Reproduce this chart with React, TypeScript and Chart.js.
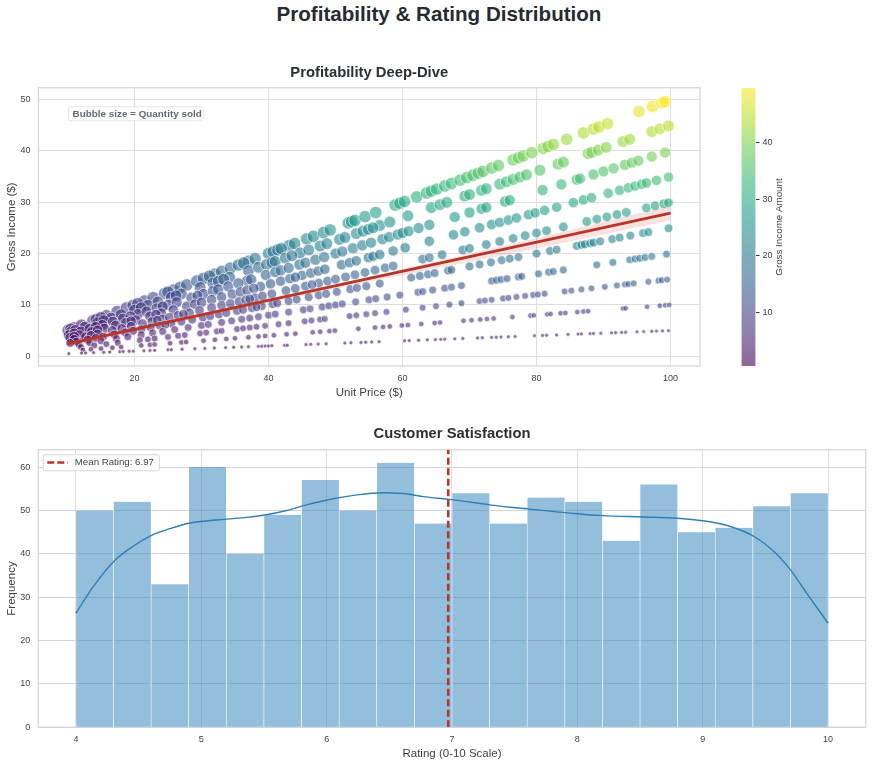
import { useEffect, useRef } from "react";
import { Chart, registerables } from "chart.js";

Chart.register(...registerables);
Chart.defaults.font.family = "'Liberation Sans', Arial, sans-serif";

// [unit price, gross income], one list per quantity sold
const qty1 = [[10.2,.51],[12.1,.61],[12.7,.64],[13.9,.7],[15.4,.77],[16.3,.82],[17.8,.89],[18.3,.92],[19.2,.96],[19.8,.99],[21.4,1.07],[22.3,1.12],[23,1.15],[25,1.25],[25.5,1.28],[27.1,1.36],[29,1.45],[30.5,1.53],[31.9,1.6],[33.6,1.68],[34.8,1.74],[36,1.8],[37,1.85],[38.5,1.93],[39,1.95],[39.5,1.98],[40,2],[40.5,2.03],[42.4,2.12],[42.8,2.14],[45.6,2.28],[46.3,2.32],[47.4,2.37],[48.6,2.43],[51.4,2.57],[52.3,2.62],[53.8,2.69],[54.5,2.73],[55.4,2.77],[56.5,2.83],[60.3,3.02],[61,3.05],[62.4,3.12],[63.7,3.19],[64.9,3.25],[65.7,3.29],[66.3,3.32],[67.8,3.39],[69,3.45],[71.2,3.56],[71.9,3.6],[73.3,3.67],[74,3.7],[74.7,3.74],[75.8,3.79],[76.8,3.84],[79.7,3.99],[80.9,4.05],[81.5,4.08],[83,4.15],[84.7,4.24],[86.2,4.31],[86.7,4.34],[88,4.4],[88.5,4.43],[89.6,4.48],[91.2,4.56],[91.8,4.59],[92.7,4.64],[93.3,4.67],[95,4.75],[96,4.8],[97.2,4.86],[97.9,4.9],[98.8,4.94],[99.7,4.99]];
const qty2 = [[12.3,1.23],[13.5,1.35],[15,1.5],[16.7,1.67],[18,1.8],[21,2.1],[22.3,2.23],[23,2.3],[25.3,2.53],[27,2.7],[27.7,2.77],[30.3,3.03],[32,3.2],[33.7,3.37],[35,3.5],[37,3.7],[38.5,3.85],[39.5,3.95],[40.8,4.08],[42.7,4.27],[44,4.4],[46.6,4.66],[47.7,4.77],[49.1,4.91],[49.9,4.99],[53.4,5.34],[55.9,5.59],[57.1,5.71],[58.1,5.81],[59.9,5.99],[60.8,6.08],[62.8,6.28],[64.8,6.48],[65.6,6.56],[69.1,6.91],[70.3,7.03],[71.6,7.16],[72.6,7.26],[73.6,7.36],[76.4,7.64],[79.1,7.91],[79.6,7.96],[81.6,8.16],[82.1,8.21],[83.6,8.36],[84.3,8.43],[86.1,8.61],[87,8.7],[87.7,8.77],[92.9,9.29],[93.3,9.33],[96.5,9.65],[98.4,9.84],[99.2,9.92],[99.8,9.98]];
const qty3 = [[12,1.8],[14,2.1],[15.8,2.37],[17.5,2.63],[20.8,3.12],[22,3.3],[23,3.45],[25,3.75],[26.5,3.98],[27.5,4.13],[29.8,4.47],[30.7,4.61],[32.3,4.85],[33,4.95],[35.3,5.3],[36.2,5.43],[37.2,5.58],[38.2,5.73],[39.5,5.93],[41.5,6.23],[43,6.45],[45.4,6.81],[46.4,6.96],[47.7,7.16],[48.4,7.26],[52.1,7.82],[53.1,7.97],[54.6,8.19],[55.9,8.39],[57.6,8.64],[60.5,9.08],[63,9.45],[65,9.75],[67,10.05],[68.8,10.32],[71.5,10.73],[72.3,10.85],[73.3,11],[75,11.25],[75.8,11.37],[77,11.55],[78.3,11.75],[79.5,11.93],[80.2,12.03],[81.2,12.18],[84.2,12.63],[85.2,12.78],[86.7,13.01],[88.2,13.23],[90.2,13.53],[92,13.8],[93.2,13.98],[93.7,14.06],[94.5,14.18],[96.7,14.51],[98.2,14.73],[98.7,14.81],[99.5,14.93]];
const qty4 = [[11.7,2.34],[13.3,2.66],[15,3],[17.3,3.46],[19,3.8],[21,4.2],[22.7,4.54],[24.2,4.84],[26,5.2],[28,5.6],[30,6],[31,6.2],[33,6.6],[34.5,6.9],[36,7.2],[37.2,7.44],[38.5,7.7],[40,8],[41,8.2],[43,8.6],[45.2,9.04],[46.2,9.24],[48,9.6],[49,9.8],[50,10],[51,10.2],[53,10.6],[55,11],[56,11.2],[57.7,11.54],[59.6,11.92],[62.3,12.46],[63,12.6],[64.5,12.9],[66.3,13.26],[67.3,13.46],[68.8,13.76],[73.3,14.66],[74,14.8],[74.7,14.94],[75.6,15.12],[77.3,15.46],[77.8,15.56],[80.3,16.06],[81.8,16.36],[82.5,16.5],[84,16.8],[89,17.8],[91.4,18.28],[93.9,18.78],[94.7,18.94],[95.4,19.08],[96.2,19.24],[97.2,19.44],[99.4,19.88]];
const qty5 = [[11.3,2.83],[13,3.25],[15.3,3.83],[17,4.25],[18.6,4.65],[21,5.25],[22.4,5.6],[23.8,5.95],[25.5,6.38],[27,6.75],[28.6,7.15],[30.2,7.55],[32.6,8.15],[33.7,8.43],[35.3,8.83],[36.2,9.05],[37.5,9.38],[39,9.75],[40.6,10.15],[41.3,10.33],[43,10.75],[44.2,11.05],[46,11.5],[47.5,11.88],[48.6,12.15],[50.2,12.55],[52.2,13.05],[53.2,13.3],[54.6,13.65],[56.6,14.15],[61.3,15.33],[62.6,15.65],[63.8,15.95],[64.8,16.2],[66.8,16.7],[67.3,16.83],[70,17.5],[71.5,17.88],[73.2,18.3],[74.8,18.7],[76,19],[77.3,19.33],[80,20],[82,20.5],[83,20.75],[86,21.5],[86.7,21.68],[87.2,21.8],[88,22],[88.5,22.13],[89.5,22.38],[91.3,22.83],[92.4,23.1],[94,23.5],[95.9,23.98],[96.7,24.18],[99.7,24.93],[10.4,2.6],[14.2,3.55],[19.8,4.95],[24.6,6.15],[31.3,7.83],[38.2,9.55]];
const qty6 = [[11,3.3],[12.7,3.81],[14.5,4.35],[16.7,5.01],[18.1,5.43],[21.2,6.36],[22.6,6.78],[24.2,7.26],[25.2,7.56],[26.5,7.95],[28.2,8.46],[29.7,8.91],[31.5,9.45],[33,9.9],[34.3,10.29],[35.6,10.68],[36.6,10.98],[38,11.4],[39.1,11.73],[40.5,12.15],[42.6,12.78],[44,13.2],[45.5,13.65],[47.5,14.25],[48.8,14.64],[50,15],[51.5,15.45],[52.9,15.87],[54.4,16.32],[55.9,16.77],[57.4,17.22],[58.6,17.58],[63,18.9],[64,19.2],[65.9,19.77],[69,20.7],[70,21],[72.5,21.75],[74.5,22.35],[76.5,22.95],[78.3,23.49],[80,24],[81.5,24.45],[84,25.2],[87.5,26.25],[89,26.7],[90.5,27.15],[92,27.6],[93.4,28.02],[96.4,28.92],[97.7,29.31],[99,29.7],[99.7,29.91],[13.5,4.05],[19.5,5.85],[23.4,7.02],[27.3,8.19],[37.2,11.16],[46.5,13.95]];
const qty7 = [[10.4,3.64],[11.8,4.13],[13.6,4.76],[15.5,5.43],[17.2,6.02],[18.7,6.55],[20.2,7.07],[22.3,7.81],[24,8.4],[25.8,9.03],[27.8,9.73],[29,10.15],[31.5,11.03],[33,11.55],[34.6,12.11],[35.8,12.53],[36.8,12.88],[38.8,13.58],[40.3,14.11],[41.8,14.63],[43.2,15.12],[45,15.75],[46.3,16.21],[47.4,16.59],[48.4,16.94],[50.9,17.82],[52.1,18.24],[53.1,18.59],[54.9,19.22],[55.6,19.46],[56.6,19.81],[58.6,20.51],[60.4,21.14],[64,22.4],[67.6,23.66],[69.3,24.26],[71.5,25.03],[73.3,25.66],[74.5,26.08],[75.8,26.53],[77,26.95],[78.8,27.58],[79.8,27.93],[81.2,28.42],[83,29.05],[85.5,29.93],[87,30.45],[88.2,30.87],[90.7,31.75],[92.4,32.34],[93.7,32.8],[94.7,33.15],[95.7,33.5],[96.4,33.74],[97.9,34.27],[99.7,34.9],[11,3.85],[14.5,5.08],[19.5,6.83],[23.2,8.12],[30,10.5],[37.8,13.23],[44,15.4]];
const qty8 = [[10.2,4.08],[12,4.8],[13.3,5.32],[15.2,6.08],[16.8,6.72],[18.3,7.32],[20.5,8.2],[21.8,8.72],[23.3,9.32],[25,10],[26.3,10.52],[28.5,11.4],[30.3,12.12],[31.7,12.68],[32.5,13],[34,13.6],[36.8,14.72],[37.4,14.96],[39.6,15.84],[41,16.4],[41.8,16.72],[44.6,17.84],[45.5,18.2],[47,18.8],[48.3,19.32],[50,20],[51,20.4],[52.6,21.04],[54,21.6],[55.3,22.12],[57,22.8],[58,23.2],[59.3,23.72],[60,24],[60.9,24.36],[62.4,24.96],[64,25.6],[67.8,27.12],[70,28],[71.8,28.72],[72.5,29],[75.3,30.12],[76,30.4],[80.9,32.36],[83.7,33.48],[86,34.4],[86.5,34.6],[88.5,35.4],[90,36],[91.5,36.6],[93.2,37.28],[94.2,37.68],[95.2,38.08],[97.2,38.88],[99.2,39.68],[11,4.4],[14.2,5.68],[19.4,7.76],[24.2,9.68],[29.4,11.76],[35.5,14.2],[43,17.2]];
const qty9 = [[10.6,4.77],[12.6,5.67],[14.5,6.53],[16.5,7.43],[18,8.1],[20,9],[22,9.9],[23.5,10.58],[25.5,11.48],[27,12.15],[29.8,13.41],[31.7,14.27],[32.5,14.63],[34.2,15.39],[37,16.65],[38.5,17.33],[39.7,17.87],[40.5,18.23],[41,18.45],[42.5,19.13],[44.7,20.12],[46,20.7],[47.7,21.47],[48.7,21.92],[50.6,22.77],[51.4,23.13],[53.1,23.9],[54.1,24.35],[54.9,24.71],[56.6,25.47],[58.1,26.15],[60.8,27.36],[64.3,28.94],[65.6,29.52],[66.6,29.97],[69.3,31.19],[70,31.5],[71.8,32.31],[72.5,32.63],[74.5,33.53],[75.5,33.98],[76.5,34.43],[77.5,34.88],[78.5,35.33],[80.5,36.23],[83.2,37.44],[84,37.8],[87.7,39.47],[88.2,39.69],[89.2,40.14],[90.4,40.68],[92.9,41.81],[93.9,42.26],[97.2,43.74],[98.4,44.28],[99.7,44.87],[11.2,5.04],[15.4,6.93],[21,9.45],[26.2,11.79],[33.3,14.99],[43.5,19.58],[55.6,25.02]];
const qty10 = [[10.1,5.05],[11,5.5],[12.1,6.05],[13.8,6.9],[14.3,7.15],[15.8,7.9],[17.4,8.7],[18.8,9.4],[19.8,9.9],[21.5,10.75],[22.8,11.4],[24.5,12.25],[25.8,12.9],[26.8,13.4],[27.8,13.9],[29.3,14.65],[30.3,15.15],[32,16],[33,16.5],[34.3,17.15],[35.5,17.75],[37,18.5],[38,19],[40,20],[40.7,20.35],[41.4,20.7],[43.1,21.55],[43.9,21.95],[45.7,22.85],[46.7,23.35],[48.2,24.1],[49.2,24.6],[51.9,25.95],[52.4,26.2],[52.9,26.45],[54.4,27.2],[56,28],[58.9,29.45],[59.6,29.8],[60.3,30.15],[62.1,31.05],[63.6,31.8],[64.3,32.15],[65.1,32.55],[66.3,33.15],[67.3,33.65],[68.6,34.3],[69.6,34.8],[70.5,35.25],[71.3,35.65],[72,36],[73.3,36.65],[74.3,37.15],[76.5,38.25],[77.3,38.65],[78,39],[79.3,39.65],[81,40.5],[81.7,40.85],[82.5,41.25],[84.5,42.25],[87,43.5],[88.5,44.25],[89.3,44.65],[90.6,45.3],[95.3,47.65],[97.3,48.65],[98.7,49.35],[99.2,49.6],[10.5,5.25],[15,7.5],[20.5,10.25],[25,12.5],[31.2,15.6],[36.3,18.15],[41.9,20.95]];
const quantities = [1, 2, 3, 4, 5, 6, 7, 8, 9, 10];
const qtyBands = [qty1, qty2, qty3, qty4, qty5, qty6, qty7, qty8, qty9, qty10];

const fitPrices = [10, 100];
const fitIncome = [2.4, 27.9];
const bandPrices = [10, 30, 55, 80, 100];
const bandUpper = [3.0, 8.4, 15.5, 23.0, 29.3];
const bandLower = [1.8, 7.6, 14.5, 21.0, 26.5];

const priceTicks = [20, 40, 60, 80, 100];
const incomeTicks = [0, 10, 20, 30, 40, 50];
const colorbarTicks = [10, 20, 30, 40];

const ratingBinCenters = [4.15, 4.45, 4.75, 5.05, 5.35, 5.65, 5.95, 6.25, 6.55, 6.85, 7.15, 7.45, 7.75, 8.05, 8.35, 8.65, 8.95, 9.25, 9.55, 9.85];
const ratingCounts = [50, 52, 33, 60, 40, 49, 57, 50, 61, 47, 54, 47, 53, 52, 43, 56, 45, 46, 51, 54];
const kdeRatings = [4, 4.14, 4.3, 4.46, 4.6, 4.75, 4.91, 5.2, 5.36, 5.52, 5.68, 5.84, 6.05, 6.24, 6.45, 6.61, 6.77, 7, 7.3, 7.62, 7.94, 8.2, 8.53, 8.8, 9.03, 9.22, 9.41, 9.57, 9.7, 9.83, 10];
const kdeCounts = [26.3, 32.5, 38.2, 41.8, 44.2, 45.8, 47.1, 48, 48.4, 49, 50, 51.3, 52.7, 53.6, 54.1, 53.9, 53.2, 52.5, 51.3, 50.3, 49.4, 48.8, 48.5, 48.2, 47.5, 46.3, 44, 40.5, 36.3, 30.9, 24];
const meanRating = 6.97;
const ratingTicks = [4, 5, 6, 7, 8, 9, 10];
const countTicks = [0, 10, 20, 30, 40, 50, 60];

const viridis = [[68,1,84],[72,40,120],[62,74,137],[49,104,142],[38,130,142],[31,158,137],[53,183,121],[109,205,89],[180,222,44],[253,231,37]];
const incomeMin = 0.5;
const incomeMax = 49.65;
const pointAlpha = 0.6;

const viridisColor = (t: number) => {
    const p = Math.min(Math.max(t, 0), 1) * (viridis.length - 1);
    const i = Math.min(Math.floor(p), viridis.length - 2);
    const c = viridis[i].map((v, k) => Math.round(v + (viridis[i + 1][k] - v) * (p - i)));
    return `rgba(${c[0]}, ${c[1]}, ${c[2]}, ${pointAlpha})`;
};

const TEXT = "#3a3f44";
const TITLE = "#2a3036";
const GRID = "#dedee2";
const FRAME = "#d4d4d8";
const RED = "#b8352b";

const fixedTicks = (list: number[]) => (scale: any) => {
    scale.ticks = list.map((value) => ({ value }));
};
const fixedWidth = (w: number) => (scale: any) => { scale.width = w; };
const fixedHeight = (h: number) => (scale: any) => { scale.height = h; };

const frame = {
    id: "frame",
    beforeDatasetsDraw(chart: any) {
        const { ctx, chartArea: a } = chart;
        ctx.save();
        ctx.strokeStyle = FRAME;
        ctx.lineWidth = 1.2;
        ctx.strokeRect(a.left, a.top, a.right - a.left, a.bottom - a.top);
        ctx.restore();
    },
};

const bubbleNote = {
    id: "bubbleNote",
    afterDatasetsDraw(chart: any) {
        const { ctx, chartArea: a } = chart;
        const x = a.left + 30;
        const y = a.top + 19;
        ctx.save();
        ctx.fillStyle = "rgba(255,255,255,0.9)";
        ctx.strokeStyle = "#e3e6ea";
        ctx.beginPath();
        ctx.roundRect(x, y, 135, 14, 2);
        ctx.fill();
        ctx.stroke();
        ctx.fillStyle = "#626a75";
        ctx.font = "bold 9.9px 'Liberation Sans'";
        ctx.textBaseline = "middle";
        ctx.fillText("Bubble size = Quantity sold", x + 4, y + 7.5);
        ctx.restore();
    },
};

const meanLegend = {
    id: "meanLegend",
    afterDatasetsDraw(chart: any) {
        const { ctx, chartArea: a } = chart;
        const x = a.left + 5;
        const y = a.top + 5;
        ctx.save();
        ctx.fillStyle = "rgba(255,255,255,0.9)";
        ctx.strokeStyle = "#d8d8d8";
        ctx.beginPath();
        ctx.roundRect(x, y, 116, 16, 2);
        ctx.fill();
        ctx.stroke();
        ctx.strokeStyle = RED;
        ctx.lineWidth = 2.5;
        ctx.setLineDash([7, 3]);
        ctx.beginPath();
        ctx.moveTo(x + 4, y + 7.7);
        ctx.lineTo(x + 24.5, y + 7.7);
        ctx.stroke();
        ctx.fillStyle = TEXT;
        ctx.font = "9.7px 'Liberation Sans'";
        ctx.textBaseline = "middle";
        ctx.fillText(`Mean Rating: ${meanRating}`, x + 31.5, y + 8);
        ctx.restore();
    },
};

const colorbarLabel = {
    id: "colorbarLabel",
    afterDraw(chart: any) {
        const { ctx, chartArea: a } = chart;
        ctx.save();
        ctx.translate(a.right + 24, (a.top + a.bottom) / 2);
        ctx.rotate(-Math.PI / 2);
        ctx.fillStyle = TEXT;
        ctx.font = "9.8px 'Liberation Sans'";
        ctx.textAlign = "center";
        ctx.textBaseline = "middle";
        ctx.fillText("Gross Income Amount", 0, 0);
        ctx.restore();
    },
};

const App = () => {
    const scatterRef = useRef<HTMLCanvasElement>(null);
    const colorbarRef = useRef<HTMLCanvasElement>(null);
    const histRef = useRef<HTMLCanvasElement>(null);

    useEffect(() => {
        if (!scatterRef.current || !colorbarRef.current || !histRef.current) return;

        const scatter = new Chart(scatterRef.current, {
            type: "scatter",
            data: {
                datasets: [
                    {
                        label: "Trend",
                        data: fitPrices.map((x, i) => ({ x, y: fitIncome[i] })),
                        showLine: true,
                        borderColor: RED,
                        borderWidth: 2.8,
                        pointRadius: 0,
                    },
                    {
                        label: "Upper",
                        data: bandPrices.map((x, i) => ({ x, y: bandUpper[i] })),
                        showLine: true,
                        borderWidth: 0,
                        pointRadius: 0,
                        fill: "+1",
                        backgroundColor: "rgba(200, 60, 50, 0.15)",
                    },
                    {
                        label: "Lower",
                        data: bandPrices.map((x, i) => ({ x, y: bandLower[i] })),
                        showLine: true,
                        borderWidth: 0,
                        pointRadius: 0,
                    },
                    ...quantities.map((q, i) => ({
                        label: `Qty ${q}`,
                        data: qtyBands[i].map(([x, y]) => ({ x, y })),
                        pointRadius: 6.2 * Math.sqrt(q / 10),
                        pointBorderWidth: 0.7,
                        pointBorderColor: "rgba(255, 255, 255, 0.9)",
                        pointBackgroundColor: qtyBands[i].map(([, y]) => viridisColor((y - incomeMin) / (incomeMax - incomeMin))),
                    })),
                ],
            },
            options: {
                animation: false,
                responsive: false,
                layout: { padding: { right: 20 } },
                plugins: {
                    legend: { display: false },
                    tooltip: { enabled: false },
                    title: {
                        display: true,
                        text: "Profitability Deep-Dive",
                        color: TITLE,
                        fullSize: false,
                        font: { size: 14.8, weight: "bold" },
                        padding: { top: 9, bottom: 6 },
                    },
                },
                scales: {
                    x: {
                        type: "linear",
                        min: 5.67,
                        max: 104.4,
                        afterBuildTicks: fixedTicks(priceTicks),
                        afterFit: fixedHeight(39),
                        grid: { color: GRID, drawTicks: false },
                        border: { display: false },
                        ticks: { color: TEXT, font: { size: 9 }, padding: 7, maxRotation: 0 },
                        title: { display: true, text: "Unit Price ($)", color: TEXT, font: { size: 11.5 }, padding: { top: 5.7, bottom: 5.7 } },
                    },
                    y: {
                        min: -1.9,
                        max: 52.3,
                        afterBuildTicks: fixedTicks(incomeTicks),
                        afterFit: fixedWidth(38.5),
                        grid: { color: GRID, drawTicks: false },
                        border: { display: false },
                        ticks: { color: TEXT, font: { size: 9 }, padding: 8 },
                        title: { display: true, text: "Gross Income ($)", color: TEXT, font: { size: 11.5 }, padding: { top: 4.8, bottom: 4.8 } },
                    },
                },
            },
            plugins: [frame, bubbleNote],
        } as any);

        const colorbar = new Chart(colorbarRef.current, {
            type: "bar",
            data: {
                labels: [""],
                datasets: [{
                    data: [[incomeMin, incomeMax]],
                    barPercentage: 1,
                    categoryPercentage: 1,
                    backgroundColor: (ctx: any) => {
                        const a = ctx.chart.chartArea;
                        if (!a) return viridisColor(0.5);
                        const g = ctx.chart.ctx.createLinearGradient(0, a.bottom, 0, a.top);
                        viridis.forEach((_, i) => g.addColorStop(i / (viridis.length - 1), viridisColor(i / (viridis.length - 1))));
                        return g;
                    },
                }],
            },
            options: {
                animation: false,
                responsive: false,
                layout: { padding: { left: 11.5, top: 10, bottom: 12 } },
                plugins: { legend: { display: false }, tooltip: { enabled: false } },
                scales: {
                    x: { display: false },
                    y: {
                        position: "right",
                        min: incomeMin,
                        max: incomeMax,
                        afterBuildTicks: fixedTicks(colorbarTicks),
                        afterFit: fixedWidth(74.5),
                        grid: { drawOnChartArea: false, drawTicks: true, tickLength: 4, tickColor: "#333", tickWidth: 1 },
                        border: { display: false },
                        ticks: { color: TEXT, font: { size: 9 }, padding: 3 },
                    },
                },
            },
            plugins: [colorbarLabel],
        } as any);

        const hist = new Chart(histRef.current, {
            type: "bar",
            data: {
                datasets: [
                    {
                        type: "line",
                        label: `Mean Rating: ${meanRating}`,
                        data: [{ x: meanRating, y: 0 }, { x: meanRating, y: 64 }],
                        borderColor: RED,
                        borderWidth: 2.6,
                        borderDash: [7, 3.5],
                        pointRadius: 0,
                    },
                    {
                        type: "line",
                        label: "KDE",
                        data: kdeRatings.map((x, i) => ({ x, y: kdeCounts[i] })),
                        borderColor: "#2f7fb5",
                        borderWidth: 1.4,
                        pointRadius: 0,
                        cubicInterpolationMode: "monotone",
                    },
                    {
                        type: "bar",
                        label: "Rating",
                        data: ratingBinCenters.map((x, i) => ({ x, y: ratingCounts[i] })),
                        backgroundColor: "rgba(41, 128, 185, 0.5)",
                        borderColor: "rgba(255, 255, 255, 0.85)",
                        borderWidth: { left: 0.6, right: 0.6, top: 0, bottom: 0 },
                        borderSkipped: false,
                        barPercentage: 1,
                        categoryPercentage: 1,
                    },
                ],
            },
            options: {
                animation: false,
                responsive: false,
                layout: { padding: { right: 12.3 } },
                plugins: {
                    legend: { display: false },
                    tooltip: { enabled: false },
                    title: {
                        display: true,
                        text: "Customer Satisfaction",
                        color: TITLE,
                        fullSize: false,
                        font: { size: 14.8, weight: "bold" },
                        padding: { top: 3, bottom: 7 },
                    },
                },
                scales: {
                    x: {
                        type: "linear",
                        offset: false,
                        min: 3.7,
                        max: 10.3,
                        afterBuildTicks: fixedTicks(ratingTicks),
                        afterFit: fixedHeight(35.7),
                        grid: { color: GRID, drawTicks: false, offset: false },
                        border: { display: false },
                        ticks: { color: TEXT, font: { size: 9 }, padding: 7, maxRotation: 0 },
                        title: { display: true, text: "Rating (0-10 Scale)", color: TEXT, font: { size: 11.5 }, padding: { top: 2.6, bottom: 2.6 } },
                    },
                    y: {
                        min: 0,
                        max: 64,
                        afterBuildTicks: fixedTicks(countTicks),
                        afterFit: fixedWidth(38.3),
                        grid: { color: "#d4d4d8", drawTicks: false },
                        border: { display: false },
                        ticks: { color: TEXT, font: { size: 9 }, padding: 8 },
                        title: { display: true, text: "Frequency", color: TEXT, font: { size: 11.5 }, padding: { top: 4.8, bottom: 4.8 } },
                    },
                },
            },
            plugins: [frame, meanLegend],
        } as any);

        return () => {
            scatter.destroy();
            colorbar.destroy();
            hist.destroy();
        };
    }, []);

    return (
        <div style={{ position: "absolute", left: 0, top: 0, width: 878, height: 763, overflow: "hidden", background: "#fff" }}>
            <div style={{ position: "absolute", left: 0, top: 0, width: 878, textAlign: "center", fontFamily: "'Liberation Sans'", fontWeight: "bold", fontSize: 20.6, lineHeight: "28px", color: "#252b31" }}>
                Profitability &amp; Rating Distribution
            </div>
            <canvas ref={scatterRef} width={720} height={350} style={{ position: "absolute", left: 0, top: 55, width: 720, height: 350 }}></canvas>
            <canvas ref={colorbarRef} width={100} height={300} style={{ position: "absolute", left: 730, top: 78, width: 100, height: 300 }}></canvas>
            <canvas ref={histRef} width={878} height={341} style={{ position: "absolute", left: 0, top: 422, width: 878, height: 341 }}></canvas>
        </div>
    );
};

export default App;
